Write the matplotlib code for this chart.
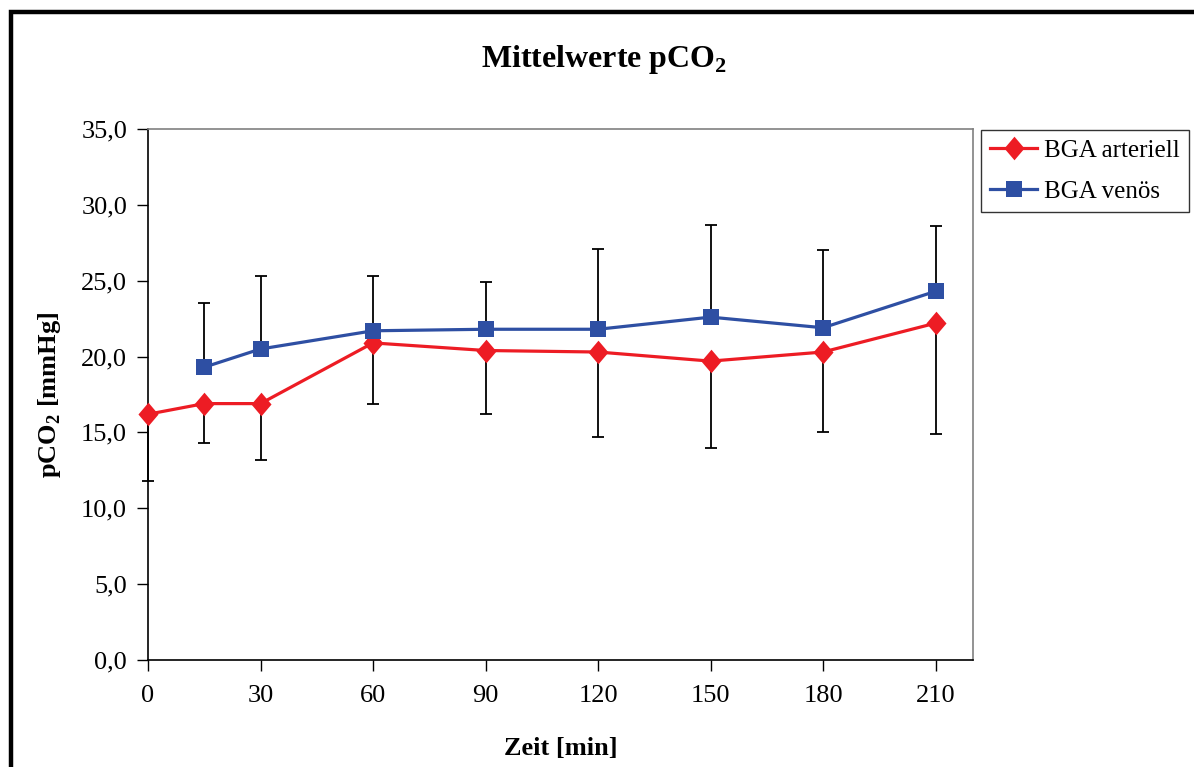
import matplotlib
matplotlib.use("Agg")
import matplotlib.pyplot as plt
from matplotlib.patches import Rectangle

# Mean pCO2 and standard deviation per sampling time
t_art = [0, 15, 30, 60, 90, 120, 150, 180, 210]
art_mean = [16.2, 16.9, 16.9, 20.9, 20.4, 20.3, 19.7, 20.3, 22.2]
art_sd = [4.4, 2.6, 3.7, 4.0, 4.2, 5.6, 5.7, 5.3, 7.3]

t_ven = [15, 30, 60, 90, 120, 150, 180, 210]
ven_mean = [19.3, 20.5, 21.7, 21.8, 21.8, 22.6, 21.9, 24.3]
ven_sd = [4.2, 4.8, 3.6, 3.1, 5.3, 6.1, 5.1, 4.3]

x_ticks = [0, 30, 60, 90, 120, 150, 180, 210]
y_ticks = [0, 5, 10, 15, 20, 25, 30, 35]
y_labels = [("%.1f" % v).replace(".", ",") for v in y_ticks]

plt.rcParams["font.family"] = ["Liberation Serif", "DejaVu Serif"]
plt.rcParams["mathtext.fontset"] = "custom"
plt.rcParams["mathtext.rm"] = "Liberation Serif"
plt.rcParams["mathtext.bf"] = "Liberation Serif:bold"

red = "#ED1C24"
blue = "#2E4FA3"
diamond = [(0, 1), (0.85, 0), (0, -1), (-0.85, 0), (0, 1)]

fig = plt.figure(figsize=(11.94, 7.67), dpi=100)
ax = fig.add_axes([148 / 1194, 1 - 660 / 767, 825 / 1194, 531 / 767])

# one-sided error bars: arterial minus SD, venous plus SD
art_low = [m - s for m, s in zip(art_mean, art_sd)]
ven_high = [m + s for m, s in zip(ven_mean, ven_sd)]
ax.vlines(t_art, art_low, art_mean, color="black", lw=1.3, zorder=2,
          clip_on=False)
ax.plot(t_art, art_low, ls="none", marker="_", markersize=9, mew=1.3,
        color="black", zorder=2, clip_on=False)
ax.vlines(t_ven, ven_mean, ven_high, color="black", lw=1.3, zorder=2,
          clip_on=False)
ax.plot(t_ven, ven_high, ls="none", marker="_", markersize=9, mew=1.3,
        color="black", zorder=2, clip_on=False)

ax.plot(t_art, art_mean, color=red, lw=2.3, marker=diamond, markersize=17,
        markeredgewidth=0, label="BGA arteriell", zorder=3, clip_on=False)
ax.plot(t_ven, ven_mean, color=blue, lw=2.3, marker="s", markersize=11.5,
        markeredgewidth=0, label="BGA venös", zorder=3, clip_on=False)

ax.set_xlim(0, 220)
ax.set_ylim(0, 35)
ax.set_xticks(x_ticks)
ax.set_yticks(y_ticks)
ax.set_yticklabels(y_labels)
ax.tick_params(axis="both", labelsize=19, direction="out", length=8,
               width=1, color="black")
ax.tick_params(axis="x", pad=10)
ax.tick_params(axis="y", pad=7)

for side in ["top", "right"]:
    ax.spines[side].set_color("#808080")
for side in ["left", "bottom"]:
    ax.spines[side].set_color("black")
for s in ax.spines.values():
    s.set_linewidth(1.2)

ax.set_xlabel("Zeit [min]", fontsize=19, fontweight="bold")
ax.xaxis.set_label_coords(0.5, -0.145)
ax.set_ylabel(r"pCO$_\mathbf{2}$ [mmHg]", fontsize=19, fontweight="bold")
ax.yaxis.set_label_coords(-0.103, 0.5)

fig.text(0.506, 1 - 60 / 767, r"Mittelwerte pCO$_\mathbf{2}$", fontsize=23,
         fontweight="bold", ha="center", va="center")

leg = fig.legend(loc="upper left", bbox_to_anchor=(981 / 1194, 1 - 130 / 767),
                 fontsize=18, frameon=True, fancybox=False, borderaxespad=0,
                 handlelength=1.85, handletextpad=0.28, labelspacing=0.72,
                 borderpad=0.38)
leg.get_frame().set_edgecolor("black")
leg.get_frame().set_linewidth(1.0)

# outer chart border
fig.patches.append(Rectangle((11 / 1194, -0.5), 2.0, 1.5 - 11.5 / 767,
                             transform=fig.transFigure, fill=False,
                             edgecolor="black", linewidth=3.2))

fig.savefig("out.png", dpi=100)
